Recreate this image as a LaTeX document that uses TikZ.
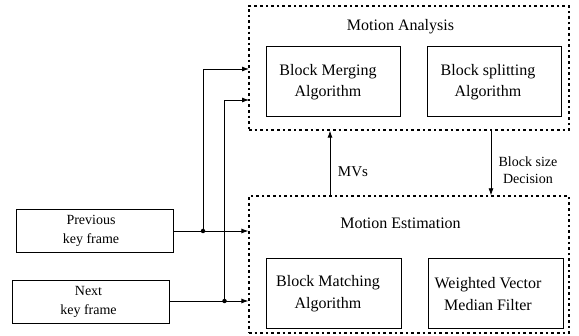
\documentclass[tikz,border=0pt]{standalone}
\usepackage{fontspec}
\setmainfont{Liberation Serif}
\usetikzlibrary{arrows.meta}
\begin{document}
\begin{tikzpicture}[x=1pt,y=-1pt,
  box/.style={draw, line width=0.8pt, minimum width=134pt, minimum height=70pt, inner sep=0pt},
  keybox/.style={draw, line width=0.8pt, minimum width=157pt, minimum height=43pt, inner sep=0pt},
  group/.style={draw, line width=1.3pt, dash pattern=on 2.6pt off 3pt, inner sep=0pt},
  txt/.style={font=\fontsize{16}{21}\selectfont, align=center, inner sep=0pt},
  ktxt/.style={font=\fontsize{14}{19}\selectfont, align=center, inner sep=0pt},
  arr/.style={line width=0.8pt, -{Latex[length=7pt,width=5pt]}},
  line/.style={line width=0.8pt},
  dot/.style={circle, fill, inner sep=0pt, minimum size=4.5pt}]
\useasboundingbox (0,0) rectangle (579,336);

% groups
\node[group, minimum width=320pt, minimum height=124pt] (ma) at (409,68) {};
\node[group, minimum width=320pt, minimum height=137pt] (me) at (409,264.5) {};
\node[txt] (mat) at (400.5,27) {Motion Analysis};
\node[txt] (met) at (400.5,223) {Motion Estimation};

% inner boxes
\node[box] (bm) at (333,81) {};
\node[txt] (bmt) at (328,82) {Block Merging\\Algorithm};
\node[box] (bs) at (494.5,81) {};
\node[txt] (bst) at (488,82) {Block splitting\\Algorithm};
\node[box, minimum width=135pt] (bk) at (333.5,293) {};
\node[txt, font=\fontsize{16}{22}\selectfont] (bkt) at (328,294) {Block Matching\\Algorithm};
\node[box, minimum width=135pt] (wv) at (495.5,293) {};
\node[txt, font=\fontsize{16}{22}\selectfont] (wvt) at (488,294) {Weighted Vector\\Median Filter};

% key frames
\node[keybox] (prev) at (94.5,230.5) {};
\node[ktxt] (prevt) at (91,231) {Previous\\key frame};
\node[keybox] (next) at (90.5,301.5) {};
\node[ktxt] (nextt) at (88.5,301.5) {Next\\key frame};

% connectors
\coordinate (j1) at (203,231);
\coordinate (j2) at (224.5,301);
\coordinate (a1) at (249,69);
\coordinate (a2) at (249,100);
\draw[arr] (prev.east |- j1) -- (j1 -| me.west);
\draw[arr] (next.east |- j2) -- (j2 -| me.west);
\draw[arr] (j1) |- (a1);
\draw[arr] (j2) |- (a2);
\node[dot] (d1) at (j1) {};
\node[dot] (d2) at (j2) {};

\coordinate (mv) at (330,0);
\coordinate (bd) at (491,0);
\draw[arr] (me.north -| mv) -- (ma.south -| mv);
\draw[arr] (ma.south -| bd) -- (me.north -| bd);
\node[font=\fontsize{15}{18}\selectfont, inner sep=0pt] (mvt) at (353,172) {MVs};
\node[ktxt, font=\fontsize{14}{16.5}\selectfont] (bdt) at (528,170) {Block size\\Decision};
\end{tikzpicture}
\end{document}
